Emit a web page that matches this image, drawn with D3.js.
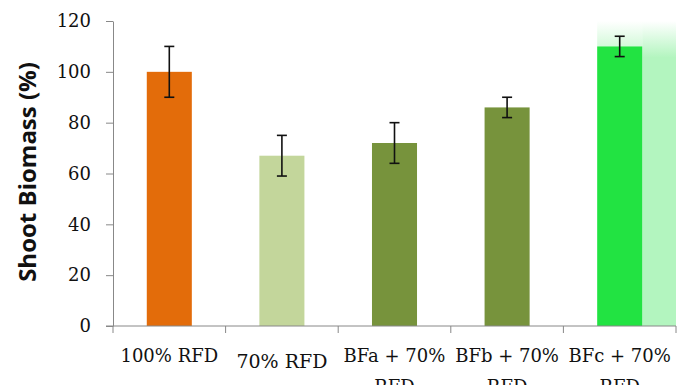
<!DOCTYPE html>
<html><head><meta charset="utf-8">
<script src="https://cdn.jsdelivr.net/npm/d3@7"></script>
<style>body{margin:0;background:#fff}</style>
</head><body>
<svg id="c" width="696" height="385"></svg>
<script>
const categories = ["100% RFD", "70% RFD", "BFa + 70% RFD", "BFb + 70% RFD", "BFc + 70% RFD"];
const values = [100, 67, 72, 86, 110];
const errors = [10, 8, 8, 4, 4];
const colors = ["#E36C0A", "#C3D69B", "#77933C", "#77933C", "#22E342"];
const yTicks = [0, 20, 40, 60, 80, 100, 120];

const svg = d3.select("#c");
const x = d3.scaleBand().domain(categories).range([113, 676]).paddingInner(0.6).paddingOuter(0.3);
const xb = d3.scaleBand().domain(categories).range([113, 676]);
const y = d3.scaleLinear().domain([0, 120]).range([326, 21]);

// glow behind last bar
const defs = svg.append("defs");
const g1 = defs.append("linearGradient").attr("id","glow").attr("x1",0).attr("y1",0).attr("x2",0).attr("y2",1);
g1.append("stop").attr("offset","0").attr("stop-color","#b3f5bf").attr("stop-opacity",0);
g1.append("stop").attr("offset","0.12").attr("stop-color","#b3f5bf").attr("stop-opacity",1);
g1.append("stop").attr("offset","1").attr("stop-color","#b3f5bf").attr("stop-opacity",1);
const g2 = defs.append("linearGradient").attr("id","glowTop").attr("x1",0).attr("y1",0).attr("x2",0).attr("y2",1);
g2.append("stop").attr("offset","0").attr("stop-color","#c9f8d1").attr("stop-opacity",0);
g2.append("stop").attr("offset","1").attr("stop-color","#c9f8d1").attr("stop-opacity",0.8);

const last = categories[4];
svg.append("rect").attr("x", x(last) + x.bandwidth()).attr("y", y(120))
  .attr("width", xb(last) + xb.bandwidth() - x(last) - x.bandwidth()).attr("height", y(0) - y(120))
  .attr("fill", "url(#glow)");
svg.append("rect").attr("x", x(last)).attr("y", y(120))
  .attr("width", x.bandwidth()).attr("height", y(values[4]) - y(120))
  .attr("fill", "url(#glowTop)");

// bars
svg.selectAll("rect.bar").data(categories).join("rect").attr("class","bar")
  .attr("x", d => x(d)).attr("y", (d,i) => y(values[i]))
  .attr("width", x.bandwidth()).attr("height", (d,i) => y(0) - y(values[i]))
  .attr("fill", (d,i) => colors[i]);

// error bars
const eb = svg.selectAll("g.err").data(categories).join("g").attr("class","err");
eb.append("line").attr("x1", d => x(d) + x.bandwidth()/2).attr("x2", d => x(d) + x.bandwidth()/2)
  .attr("y1", (d,i) => y(values[i] + errors[i])).attr("y2", (d,i) => y(values[i] - errors[i]))
  .attr("stroke", "#111").attr("stroke-width", 1.6);
[1, -1].forEach(s => {
  eb.append("line").attr("x1", d => x(d) + x.bandwidth()/2 - 5).attr("x2", d => x(d) + x.bandwidth()/2 + 5)
    .attr("y1", (d,i) => y(values[i] + s*errors[i])).attr("y2", (d,i) => y(values[i] + s*errors[i]))
    .attr("stroke", "#111").attr("stroke-width", 1.6);
});

// y axis
const ya = svg.append("g").attr("transform", "translate(113,0)")
  .call(d3.axisLeft(y).tickValues(yTicks).tickSize(7).tickPadding(15).tickSizeOuter(0));
ya.select(".domain").attr("stroke", "#888");
ya.selectAll(".tick line").attr("stroke", "#888");
ya.selectAll(".tick text").attr("font-family", "'DejaVu Serif', serif").attr("font-size", 18).attr("fill", "#111");

// x axis
const xa = svg.append("g").attr("transform", "translate(0,326)");
xa.append("line").attr("x1", 106).attr("x2", 676).attr("stroke", "#888");
xa.selectAll("line.t").data(categories.concat(["end"])).join("line").attr("class","t")
  .attr("x1", (d,i) => i < 5 ? xb(d) : xb(last) + xb.bandwidth())
  .attr("x2", (d,i) => i < 5 ? xb(d) : xb(last) + xb.bandwidth())
  .attr("y1", 0).attr("y2", 7).attr("stroke", "#888");

// x labels (wrapped)
categories.forEach((c, i) => {
  const cx = xb(c) + xb.bandwidth()/2;
  const parts = c.indexOf("BF") === 0 ? [c.replace(" RFD",""), "RFD"] : [c];
  const t = svg.append("text").attr("x", cx).attr("y", i === 1 ? 368 : 362)
    .attr("text-anchor", "middle").attr("font-family", "'DejaVu Serif', serif")
    .attr("font-size", i === 1 ? 19 : 18).attr("fill", "#111");
  parts.forEach((p, j) => t.append("tspan").attr("x", cx).attr("dy", j ? 31 : 0).text(p));
});

// y label
svg.append("text").attr("transform", "translate(36,172) rotate(-90)")
  .attr("text-anchor", "middle").attr("font-family", "'Open Sans', sans-serif")
  .attr("font-weight", "bold").attr("font-size", 24).attr("fill", "#111")
  .text("Shoot Biomass (%)");
</script>
</body></html>
